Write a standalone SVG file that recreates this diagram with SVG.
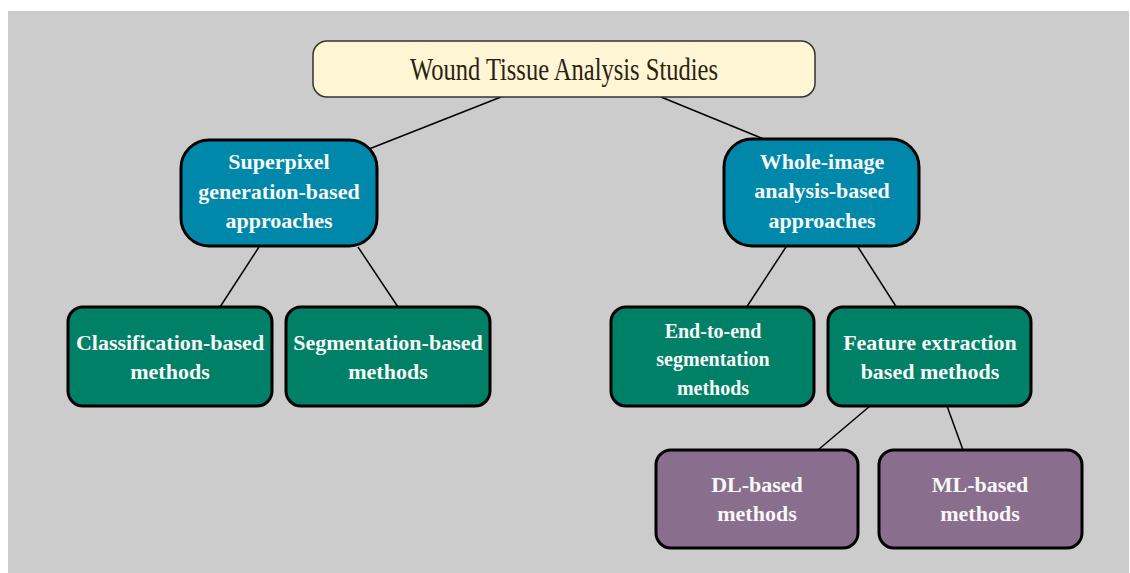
<svg xmlns="http://www.w3.org/2000/svg" width="1130" height="573" viewBox="0 0 1130 573">
  <style>
    .box { stroke: #000; stroke-width: 3; }
    .root { fill: #FFF6D5; stroke: #333; stroke-width: 1.5; }
    .blue { fill: #0088AA; }
    .green { fill: #008066; }
    .purple { fill: #8A6E8E; }
    .lbl { font-family: "Liberation Serif", "Times New Roman", serif; font-weight: bold; font-size: 22px; fill: #F8F8F8; text-anchor: middle; }
    .small { font-size: 20px; }
    .title { font-family: "Liberation Serif", "Times New Roman", serif; font-size: 31px; fill: #2B2210; text-anchor: middle; }
    .edge { stroke: #000; stroke-width: 1.5; fill: none; }
  </style>

  <!-- canvas -->
  <rect x="8" y="11" width="1121" height="562" fill="#CCCCCC"/>

  <!-- connectors -->
  <g id="connectors" class="edge">
    <line x1="501" y1="97" x2="369" y2="149"/>
    <line x1="661" y1="97" x2="766" y2="140"/>
    <line x1="259" y1="247" x2="220" y2="307"/>
    <line x1="358" y1="247" x2="398" y2="307"/>
    <line x1="786" y1="247" x2="746" y2="308"/>
    <line x1="858" y1="247" x2="897" y2="308"/>
    <line x1="870" y1="406" x2="818" y2="450"/>
    <line x1="947" y1="406" x2="963" y2="450"/>
  </g>

  <g id="root">
    <rect class="root" x="313" y="41" width="502" height="56" rx="14"/>
    <text class="title" x="564" y="80" textLength="308" lengthAdjust="spacingAndGlyphs">Wound Tissue Analysis Studies</text>
  </g>

  <g id="superpixel">
    <rect class="box blue" x="181" y="140" width="196" height="106" rx="28"/>
    <text class="lbl" x="279" y="169">Superpixel</text>
    <text class="lbl" x="279" y="199">generation-based</text>
    <text class="lbl" x="279" y="228">approaches</text>
  </g>

  <g id="whole-image">
    <rect class="box blue" x="724" y="139" width="195" height="107" rx="28"/>
    <text class="lbl" x="822" y="169">Whole-image</text>
    <text class="lbl" x="822" y="198">analysis-based</text>
    <text class="lbl" x="822" y="228">approaches</text>
  </g>

  <g id="classification">
    <rect class="box green" x="68" y="307" width="204" height="99" rx="15"/>
    <text class="lbl" x="170" y="350">Classification-based</text>
    <text class="lbl" x="170" y="379">methods</text>
  </g>

  <g id="segmentation">
    <rect class="box green" x="286" y="307" width="204" height="99" rx="15"/>
    <text class="lbl" x="388" y="350">Segmentation-based</text>
    <text class="lbl" x="388" y="379">methods</text>
  </g>

  <g id="end-to-end">
    <rect class="box green" x="611" y="307" width="203" height="99" rx="15"/>
    <text class="lbl small" x="713" y="338">End-to-end</text>
    <text class="lbl small" x="713" y="366">segmentation</text>
    <text class="lbl small" x="713" y="395">methods</text>
  </g>

  <g id="feature-extraction">
    <rect class="box green" x="828" y="307" width="203" height="99" rx="15"/>
    <text class="lbl" x="930" y="350">Feature extraction</text>
    <text class="lbl" x="930" y="379">based methods</text>
  </g>

  <g id="dl-based">
    <rect class="box purple" x="656" y="450" width="202" height="98" rx="15"/>
    <text class="lbl" x="757" y="492">DL-based</text>
    <text class="lbl" x="757" y="521">methods</text>
  </g>

  <g id="ml-based">
    <rect class="box purple" x="879" y="450" width="203" height="98" rx="15"/>
    <text class="lbl" x="980" y="492">ML-based</text>
    <text class="lbl" x="980" y="521">methods</text>
  </g>
</svg>
